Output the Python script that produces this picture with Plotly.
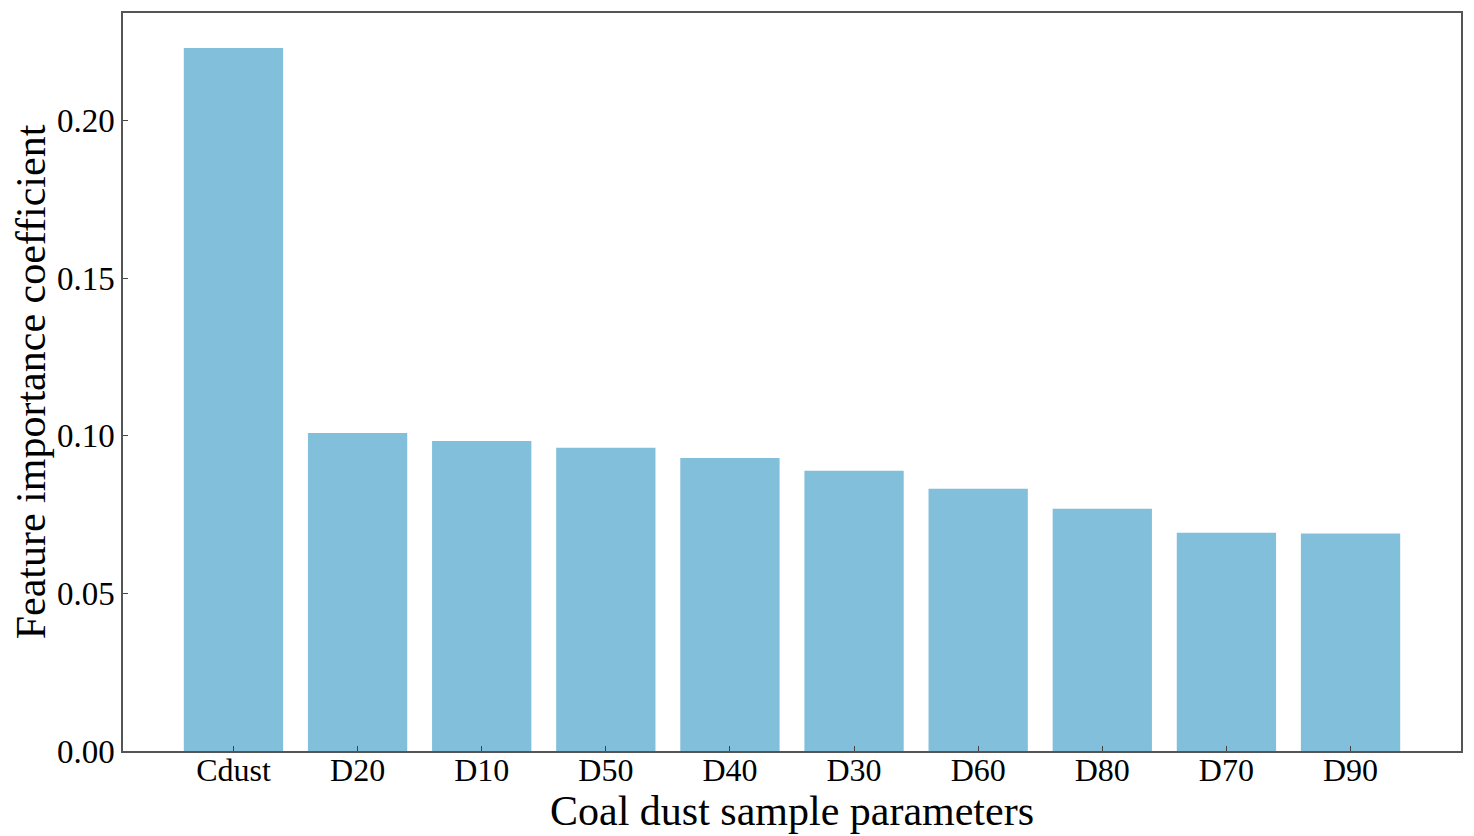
import plotly.graph_objects as go

categories = ["Cdust", "D20", "D10", "D50", "D40", "D30", "D60", "D80", "D70", "D90"]
values = [0.2231, 0.1009, 0.0984, 0.0962, 0.0930, 0.0889, 0.0832, 0.0769, 0.0693, 0.0690]
y_ticks = [0.00, 0.05, 0.10, 0.15, 0.20]
y_tick_labels = ["0.00", "0.05", "0.10", "0.15", "0.20"]

font_family = "Liberation Serif, Times New Roman, serif"

fig = go.Figure(go.Bar(
    x=list(range(len(categories))),
    y=values,
    width=0.8,
    marker=dict(color="#82bfda", line=dict(width=0)),
))

fig.update_layout(
    width=1466, height=828,
    margin=dict(l=115, r=13, t=3, b=85),
    plot_bgcolor="white", paper_bgcolor="white",
    font=dict(family=font_family, color="black", size=33),
    showlegend=False,
    xaxis=dict(
        tickmode="array",
        tickvals=list(range(len(categories))),
        ticktext=categories,
        range=[-0.89, 9.89],
        ticks="inside", ticklen=5, tickwidth=1, tickcolor="#444",
        ticklabelstandoff=-10,
        showline=True, linecolor="#555", linewidth=1.5, mirror=True,
        showgrid=False, zeroline=False,
        tickfont=dict(size=32),
        title=dict(text="Coal dust sample parameters", font=dict(size=42), standoff=0),
    ),
    yaxis=dict(
        tickmode="array",
        tickvals=y_ticks,
        ticktext=y_tick_labels,
        range=[0, 0.2342],
        ticks="inside", ticklen=5, tickwidth=1, tickcolor="#444",
        showline=True, linecolor="#555", linewidth=1.5, mirror=True,
        showgrid=False, zeroline=False,
        tickfont=dict(size=33),
        title=dict(text="Feature importance coefficient", font=dict(size=42), standoff=6),
    ),
)

fig.write_html("out.html")
